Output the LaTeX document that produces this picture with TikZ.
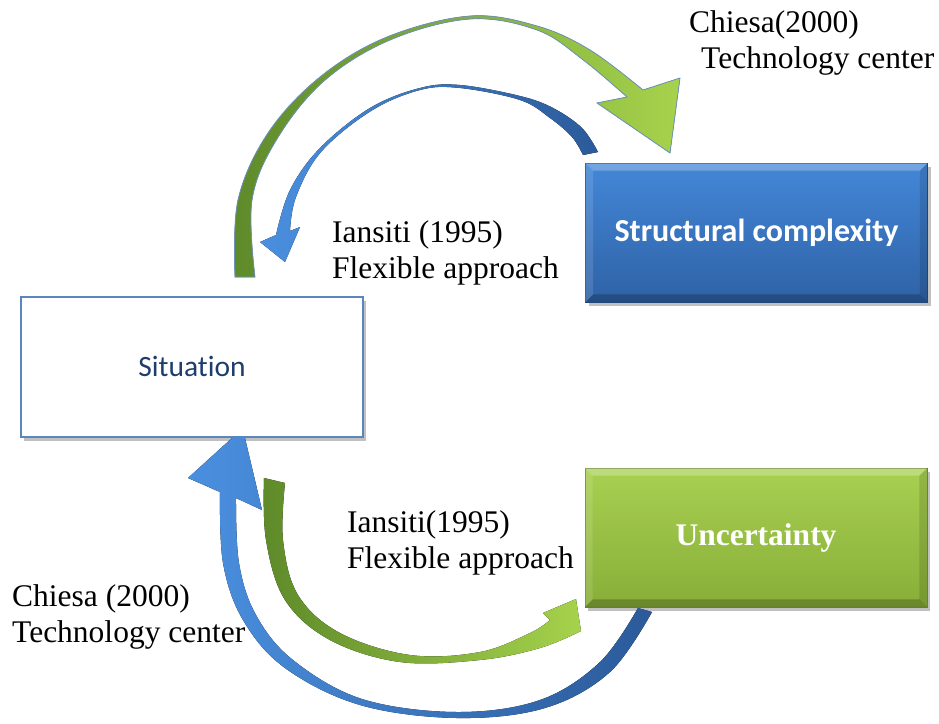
\documentclass[tikz,border=0pt]{standalone}
\usepackage{fontspec}
\setmainfont{Liberation Serif}
\newfontfamily\calibri[Ligatures=NoCommon]{Carlito}
\usetikzlibrary{shadows,calc}
\definecolor{bLight}{HTML}{4A90E0}
\definecolor{bDark}{HTML}{2B5A9A}
\definecolor{gLight}{HTML}{A6D24C}
\definecolor{gDark}{HTML}{5E8A2A}
\definecolor{edgeBlue}{HTML}{6F92BC}
\definecolor{sbTop}{HTML}{4487D8}
\definecolor{sbBot}{HTML}{2E62A6}
\definecolor{ugTop}{HTML}{A8D051}
\definecolor{ugBot}{HTML}{88AE38}
\definecolor{sitBorder}{HTML}{5B85BF}
\definecolor{sitText}{HTML}{1F3D6B}
\begin{document}
\begin{tikzpicture}[x=1pt,y=-1pt,
  lbl/.style={anchor=base west, align=left, inner sep=0pt,
    font=\fontsize{31.5}{36}\selectfont},
  boxshadow/.style={drop shadow={shadow xshift=3pt, shadow yshift=-4pt, opacity=0.35, fill=black!70}},
  boxbase/.style={minimum width=342pt, minimum height=139pt, inner sep=0pt, boxshadow}
]
\useasboundingbox[fill=white] (0,0) rectangle (939,723);

% boxes
\node[boxbase, draw=sitBorder, line width=2pt, fill=white, minimum height=140pt,
  font=\calibri\fontsize{29.5}{31}\selectfont, text=sitText] (sit) at (192,366.5) {Situation};
\node[boxbase, top color=sbTop, bottom color=sbBot, draw=sbBot!80!black, line width=0.6pt] (sc) at (756.5,232.5) {};
\node[boxbase, top color=ugTop, bottom color=ugBot, draw=ugBot!80!black, line width=0.6pt] (un) at (756,537.5) {};

% bevels
\foreach \n in {sc, un}{
  \fill[white, opacity=0.25] (\n.north west) -- (\n.north east) -- ($(\n.north east)+(-8,8)$) -- ($(\n.north west)+(8,8)$) -- cycle;
  \fill[white, opacity=0.12] (\n.north west) -- ($(\n.north west)+(8,8)$) -- ($(\n.south west)+(8,-8)$) -- (\n.south west) -- cycle;
  \fill[black, opacity=0.22] (\n.south west) -- (\n.south east) -- ($(\n.south east)+(-8,-8)$) -- ($(\n.south west)+(8,-8)$) -- cycle;
  \fill[black, opacity=0.12] (\n.north east) -- ($(\n.north east)+(-8,8)$) -- ($(\n.south east)+(-8,-8)$) -- (\n.south east) -- cycle;
}
\node[font=\calibri\bfseries\fontsize{32}{34}\selectfont, text=white] (sct) at (sc.center) {Structural complexity};
\node[font=\bfseries\fontsize{31.5}{34}\selectfont, text=white] (unt) at (un.center) {Uncertainty};

% top green arrow
\fill[left color=gDark, right color=gLight, draw=edgeBlue, line width=0.8pt]
  plot[smooth, tension=0.6] coordinates {(235,277) (238,200) (268,133) (320,77) (387,37) (470,16) (537,26) (590,50) (643,90)}
  -- (680,78) -- (670,153) -- (597,103) --
  plot[smooth, tension=0.6] coordinates {(627,97) (582,59) (537,30) (470,19) (390,40) (324,81) (277,139) (252,200) (255,277)}
  -- cycle;

% top blue arrow
\fill[left color=bLight, right color=bDark]
  plot[smooth, tension=0.6] coordinates {(598,152) (582,128) (553,108) (520,96) (460,85) (420,88) (370,108) (320,148) (290,190) (276,235)}
  -- (260,242) -- (285,262) -- (300,227) --
  plot[smooth, tension=0.6] coordinates {(290,231) (296,197) (321,152) (371,111) (420,90) (460,88) (520,100) (550,118) (572,137) (583,155)}
  -- cycle;

% bottom blue arrow
\fill[left color=bLight, right color=bDark]
  plot[smooth, tension=0.6] coordinates {(652,612) (610,672) (545,708) (457,718) (360,705) (285,668) (243,620) (223,563) (220,492)}
  -- (188,478) -- (232,438) -- (245,438) -- (262,510) --
  plot[smooth, tension=0.6] coordinates {(236,498) (239,563) (256,615) (293,660) (362,699) (457,712) (540,700) (600,662) (638,608)}
  -- cycle;

% bottom green arrow
\fill[left color=gDark, right color=gLight]
  plot[smooth, tension=0.6] coordinates {(264,478) (266,540) (285,600) (330,640) (400,662) (480,660) (540,648) (581,631)}
  -- (576,599) -- (543,613) --
  plot[smooth, tension=0.6] coordinates {(550,620) (530,633) (480,652) (410,655) (340,633) (298,595) (283,540) (285,483)}
  -- cycle;

% labels
\node[lbl] (l1) at (689,68) {Chiesa(2000)\\\hspace*{12pt}Technology center};
\node[lbl] (l2) at (332,278) {Iansiti (1995)\\Flexible approach};
\node[lbl] (l3) at (347,568) {Iansiti(1995)\\Flexible approach};
\node[lbl] (l4) at (12,642) {Chiesa (2000)\\Technology center};
\end{tikzpicture}
\end{document}
